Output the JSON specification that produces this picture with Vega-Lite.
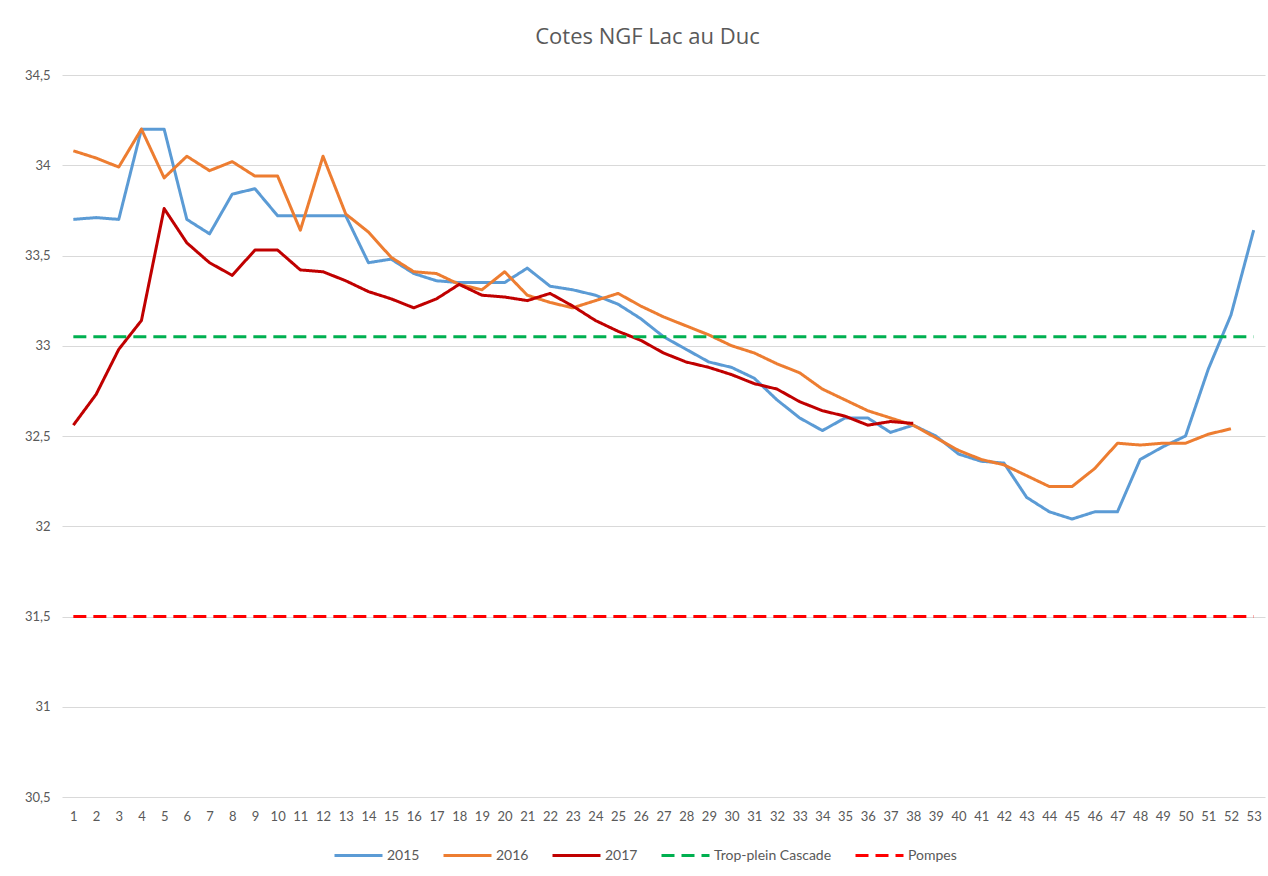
{
  "$schema": "https://vega.github.io/schema/vega-lite/v6.json",
  "width": 1203,
  "height": 722,
  "autosize": {"type": "none"},
  "padding": {"left": 62, "top": 75, "right": 3, "bottom": 79},
  "background": "white",
  "title": {
    "text": "Cotes NGF Lac au Duc",
    "font": "Open Sans",
    "fontSize": 22,
    "fontWeight": "normal",
    "color": "#595959",
    "offset": 20,
    "dx": -16
  },
  "config": {
    "view": {"stroke": null},
    "font": "Lato",
    "legend": {
      "title": null,
      "orient": "none",
      "legendX": 271,
      "legendY": 755,
      "direction": "horizontal",
      "gridAlign": "none",
      "symbolType": "stroke",
      "symbolStrokeWidth": 3,
      "symbolSize": 2304,
      "labelOffset": 3,
      "labelFontSize": 14,
      "labelColor": "#595959",
      "labelFont": "Lato",
      "columnPadding": 17
    }
  },
  "data": {
    "values": [
      {"week": 1, "2015": 33.70, "2016": 34.08, "2017": 32.56, "Trop-plein Cascade": 33.05, "Pompes": 31.5},
      {"week": 2, "2015": 33.71, "2016": 34.04, "2017": 32.73, "Trop-plein Cascade": 33.05, "Pompes": 31.5},
      {"week": 3, "2015": 33.70, "2016": 33.99, "2017": 32.98, "Trop-plein Cascade": 33.05, "Pompes": 31.5},
      {"week": 4, "2015": 34.20, "2016": 34.20, "2017": 33.14, "Trop-plein Cascade": 33.05, "Pompes": 31.5},
      {"week": 5, "2015": 34.20, "2016": 33.93, "2017": 33.76, "Trop-plein Cascade": 33.05, "Pompes": 31.5},
      {"week": 6, "2015": 33.70, "2016": 34.05, "2017": 33.57, "Trop-plein Cascade": 33.05, "Pompes": 31.5},
      {"week": 7, "2015": 33.62, "2016": 33.97, "2017": 33.46, "Trop-plein Cascade": 33.05, "Pompes": 31.5},
      {"week": 8, "2015": 33.84, "2016": 34.02, "2017": 33.39, "Trop-plein Cascade": 33.05, "Pompes": 31.5},
      {"week": 9, "2015": 33.87, "2016": 33.94, "2017": 33.53, "Trop-plein Cascade": 33.05, "Pompes": 31.5},
      {"week": 10, "2015": 33.72, "2016": 33.94, "2017": 33.53, "Trop-plein Cascade": 33.05, "Pompes": 31.5},
      {"week": 11, "2015": 33.72, "2016": 33.64, "2017": 33.42, "Trop-plein Cascade": 33.05, "Pompes": 31.5},
      {"week": 12, "2015": 33.72, "2016": 34.05, "2017": 33.41, "Trop-plein Cascade": 33.05, "Pompes": 31.5},
      {"week": 13, "2015": 33.72, "2016": 33.73, "2017": 33.36, "Trop-plein Cascade": 33.05, "Pompes": 31.5},
      {"week": 14, "2015": 33.46, "2016": 33.63, "2017": 33.30, "Trop-plein Cascade": 33.05, "Pompes": 31.5},
      {"week": 15, "2015": 33.48, "2016": 33.49, "2017": 33.26, "Trop-plein Cascade": 33.05, "Pompes": 31.5},
      {"week": 16, "2015": 33.40, "2016": 33.41, "2017": 33.21, "Trop-plein Cascade": 33.05, "Pompes": 31.5},
      {"week": 17, "2015": 33.36, "2016": 33.40, "2017": 33.26, "Trop-plein Cascade": 33.05, "Pompes": 31.5},
      {"week": 18, "2015": 33.35, "2016": 33.34, "2017": 33.34, "Trop-plein Cascade": 33.05, "Pompes": 31.5},
      {"week": 19, "2015": 33.35, "2016": 33.31, "2017": 33.28, "Trop-plein Cascade": 33.05, "Pompes": 31.5},
      {"week": 20, "2015": 33.35, "2016": 33.41, "2017": 33.27, "Trop-plein Cascade": 33.05, "Pompes": 31.5},
      {"week": 21, "2015": 33.43, "2016": 33.28, "2017": 33.25, "Trop-plein Cascade": 33.05, "Pompes": 31.5},
      {"week": 22, "2015": 33.33, "2016": 33.24, "2017": 33.29, "Trop-plein Cascade": 33.05, "Pompes": 31.5},
      {"week": 23, "2015": 33.31, "2016": 33.21, "2017": 33.22, "Trop-plein Cascade": 33.05, "Pompes": 31.5},
      {"week": 24, "2015": 33.28, "2016": 33.25, "2017": 33.14, "Trop-plein Cascade": 33.05, "Pompes": 31.5},
      {"week": 25, "2015": 33.23, "2016": 33.29, "2017": 33.08, "Trop-plein Cascade": 33.05, "Pompes": 31.5},
      {"week": 26, "2015": 33.15, "2016": 33.22, "2017": 33.03, "Trop-plein Cascade": 33.05, "Pompes": 31.5},
      {"week": 27, "2015": 33.05, "2016": 33.16, "2017": 32.96, "Trop-plein Cascade": 33.05, "Pompes": 31.5},
      {"week": 28, "2015": 32.98, "2016": 33.11, "2017": 32.91, "Trop-plein Cascade": 33.05, "Pompes": 31.5},
      {"week": 29, "2015": 32.91, "2016": 33.06, "2017": 32.88, "Trop-plein Cascade": 33.05, "Pompes": 31.5},
      {"week": 30, "2015": 32.88, "2016": 33.00, "2017": 32.84, "Trop-plein Cascade": 33.05, "Pompes": 31.5},
      {"week": 31, "2015": 32.82, "2016": 32.96, "2017": 32.79, "Trop-plein Cascade": 33.05, "Pompes": 31.5},
      {"week": 32, "2015": 32.70, "2016": 32.90, "2017": 32.76, "Trop-plein Cascade": 33.05, "Pompes": 31.5},
      {"week": 33, "2015": 32.60, "2016": 32.85, "2017": 32.69, "Trop-plein Cascade": 33.05, "Pompes": 31.5},
      {"week": 34, "2015": 32.53, "2016": 32.76, "2017": 32.64, "Trop-plein Cascade": 33.05, "Pompes": 31.5},
      {"week": 35, "2015": 32.60, "2016": 32.70, "2017": 32.61, "Trop-plein Cascade": 33.05, "Pompes": 31.5},
      {"week": 36, "2015": 32.60, "2016": 32.64, "2017": 32.56, "Trop-plein Cascade": 33.05, "Pompes": 31.5},
      {"week": 37, "2015": 32.52, "2016": 32.60, "2017": 32.58, "Trop-plein Cascade": 33.05, "Pompes": 31.5},
      {"week": 38, "2015": 32.56, "2016": 32.56, "2017": 32.57, "Trop-plein Cascade": 33.05, "Pompes": 31.5},
      {"week": 39, "2015": 32.50, "2016": 32.49, "2017": null, "Trop-plein Cascade": 33.05, "Pompes": 31.5},
      {"week": 40, "2015": 32.40, "2016": 32.42, "2017": null, "Trop-plein Cascade": 33.05, "Pompes": 31.5},
      {"week": 41, "2015": 32.36, "2016": 32.37, "2017": null, "Trop-plein Cascade": 33.05, "Pompes": 31.5},
      {"week": 42, "2015": 32.35, "2016": 32.34, "2017": null, "Trop-plein Cascade": 33.05, "Pompes": 31.5},
      {"week": 43, "2015": 32.16, "2016": 32.28, "2017": null, "Trop-plein Cascade": 33.05, "Pompes": 31.5},
      {"week": 44, "2015": 32.08, "2016": 32.22, "2017": null, "Trop-plein Cascade": 33.05, "Pompes": 31.5},
      {"week": 45, "2015": 32.04, "2016": 32.22, "2017": null, "Trop-plein Cascade": 33.05, "Pompes": 31.5},
      {"week": 46, "2015": 32.08, "2016": 32.32, "2017": null, "Trop-plein Cascade": 33.05, "Pompes": 31.5},
      {"week": 47, "2015": 32.08, "2016": 32.46, "2017": null, "Trop-plein Cascade": 33.05, "Pompes": 31.5},
      {"week": 48, "2015": 32.37, "2016": 32.45, "2017": null, "Trop-plein Cascade": 33.05, "Pompes": 31.5},
      {"week": 49, "2015": 32.44, "2016": 32.46, "2017": null, "Trop-plein Cascade": 33.05, "Pompes": 31.5},
      {"week": 50, "2015": 32.50, "2016": 32.46, "2017": null, "Trop-plein Cascade": 33.05, "Pompes": 31.5},
      {"week": 51, "2015": 32.87, "2016": 32.51, "2017": null, "Trop-plein Cascade": 33.05, "Pompes": 31.5},
      {"week": 52, "2015": 33.17, "2016": 32.54, "2017": null, "Trop-plein Cascade": 33.05, "Pompes": 31.5},
      {"week": 53, "2015": 33.64, "2016": null, "2017": null, "Trop-plein Cascade": 33.05, "Pompes": 31.5}
    ]
  },
  "transform": [
    {"fold": ["2015", "2016", "2017", "Trop-plein Cascade", "Pompes"], "as": ["serie", "value"]}
  ],
  "mark": {"type": "line", "strokeWidth": 3, "strokeJoin": "round", "strokeCap": "butt"},
  "encoding": {
    "x": {
      "field": "week",
      "type": "ordinal",
      "scale": {"type": "point", "padding": 0.5},
      "axis": {
        "title": null,
        "labelAngle": 0,
        "ticks": false,
        "domain": false,
        "labelColor": "#595959",
        "labelFontSize": 13,
        "labelPadding": 13,
        "labelFont": "Lato"
      }
    },
    "y": {
      "field": "value",
      "type": "quantitative",
      "scale": {"domain": [30.5, 34.5], "nice": false, "zero": false},
      "axis": {
        "title": null,
        "values": [30.5, 31, 31.5, 32, 32.5, 33, 33.5, 34, 34.5],
        "labelExpr": "replace(toString(datum.value), '.', ',')",
        "ticks": false,
        "domain": false,
        "grid": true,
        "gridColor": "#d9d9d9",
        "gridWidth": 1,
        "labelColor": "#595959",
        "labelFontSize": 13,
        "labelPadding": 12,
        "labelFont": "Lato"
      }
    },
    "color": {
      "field": "serie",
      "type": "nominal",
      "scale": {
        "domain": ["2015", "2016", "2017", "Trop-plein Cascade", "Pompes"],
        "range": ["#5b9bd5", "#ed7d31", "#c00000", "#00b050", "#ff0000"]
      },
      "legend": {"title": null}
    },
    "strokeDash": {
      "field": "serie",
      "type": "nominal",
      "scale": {
        "domain": ["2015", "2016", "2017", "Trop-plein Cascade", "Pompes"],
        "range": [[1, 0], [1, 0], [1, 0], [13, 7], [13, 7]]
      },
      "legend": {"title": null}
    }
  }
}
